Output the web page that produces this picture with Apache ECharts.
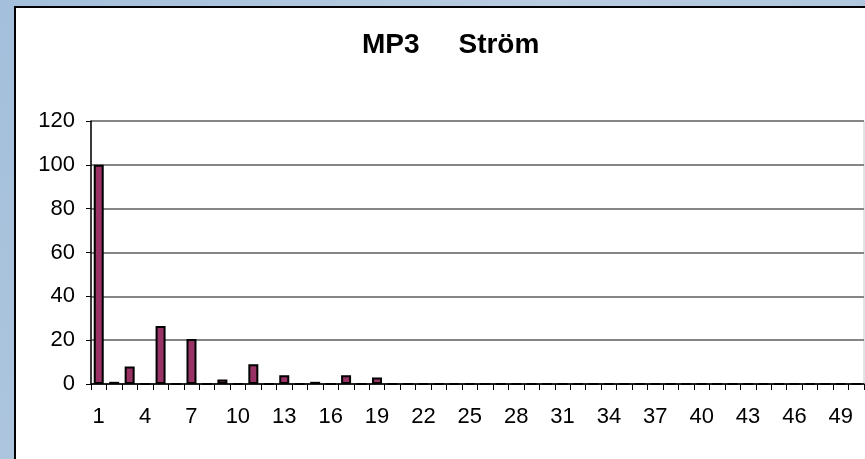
<!DOCTYPE html>
<html>
<head>
<meta charset="utf-8">
<script src="https://cdn.jsdelivr.net/npm/echarts@6/dist/echarts.min.js"></script>
<style>
  html, body { margin: 0; padding: 0; }
  #chart { width: 865px; height: 459px; }
</style>
</head>
<body>
<div id="chart"></div>
<script>
// categories 1..50 (written out), every third one labelled
const categories = ['1', '2', '3', '4', '5', '6', '7', '8', '9', '10',
  '11', '12', '13', '14', '15', '16', '17', '18', '19', '20',
  '21', '22', '23', '24', '25', '26', '27', '28', '29', '30',
  '31', '32', '33', '34', '35', '36', '37', '38', '39', '40',
  '41', '42', '43', '44', '45', '46', '47', '48', '49', '50']
const stromValues = [100, 1, 8, 0, 26.5, 0, 20.5, 0, 2, 0,
  9, 0, 4, 0, 1, 0, 4, 0, 3, 0,
  0, 0, 0, 0, 0, 0, 0, 0, 0, 0,
  0, 0, 0, 0, 0, 0, 0, 0, 0, 0,
  0, 0, 0, 0, 0, 0, 0, 0, 0, 0]
const yTicks = [0, 20, 40, 60, 80, 100, 120]

const chart = echarts.init(document.getElementById('chart'))

const option = {
  animation: false,
  backgroundColor: {
    type: 'linear', x: 0, y: 0, x2: 1, y2: 1,
    colorStops: [
      { offset: 0, color: '#a3bfdb' },
      { offset: 0.5, color: '#b9cde1' },
      { offset: 1, color: '#a9c3dd' }
    ]
  },
  graphic: [
    {
      // white chart panel
      type: 'rect',
      z: -10,
      shape: { x: 15, y: 7, width: 880, height: 480 },
      style: { fill: '#ffffff', stroke: '#000000', lineWidth: 2 }
    }
  ],
  title: {
    text: 'MP3     Ström',
    left: 357,
    top: 26,
    textStyle: {
      fontFamily: 'Liberation Sans, Arial, sans-serif',
      fontWeight: 'bold',
      fontSize: 28,
      color: '#000'
    }
  },
  grid: {
    left: 91,
    top: 121,
    width: 773,
    height: 263,
    show: true,
    borderColor: '#c8c8c8',
    borderWidth: 1,
    backgroundColor: 'transparent'
  },
  xAxis: {
    type: 'category',
    data: categories,
    axisLine: { lineStyle: { color: '#000', width: 1.5 } },
    axisTick: { show: true, interval: 0, length: 6, lineStyle: { color: '#000' } },
    axisLabel: {
      interval: 2,
      margin: 22,
      fontFamily: 'Liberation Sans, Arial, sans-serif',
      fontSize: 22,
      color: '#000'
    },
    splitLine: { show: false }
  },
  yAxis: {
    type: 'value',
    min: yTicks[0],
    max: yTicks[yTicks.length - 1],
    interval: 20,
    axisLine: { show: true, lineStyle: { color: '#000', width: 1.5 } },
    axisTick: { show: true, length: 5, lineStyle: { color: '#000' } },
    axisLabel: {
      margin: 16,
      fontFamily: 'Liberation Sans, Arial, sans-serif',
      fontSize: 22,
      color: '#000'
    },
    splitLine: { show: true, lineStyle: { color: '#858585', width: 2 } }
  },
  series: [
    {
      name: 'Ström',
      type: 'bar',
      data: stromValues,
      barWidth: 10,
      itemStyle: {
        color: '#993366',
        borderColor: '#000',
        borderWidth: 2
      }
    }
  ]
}

chart.setOption(option)
</script>
</body>
</html>
